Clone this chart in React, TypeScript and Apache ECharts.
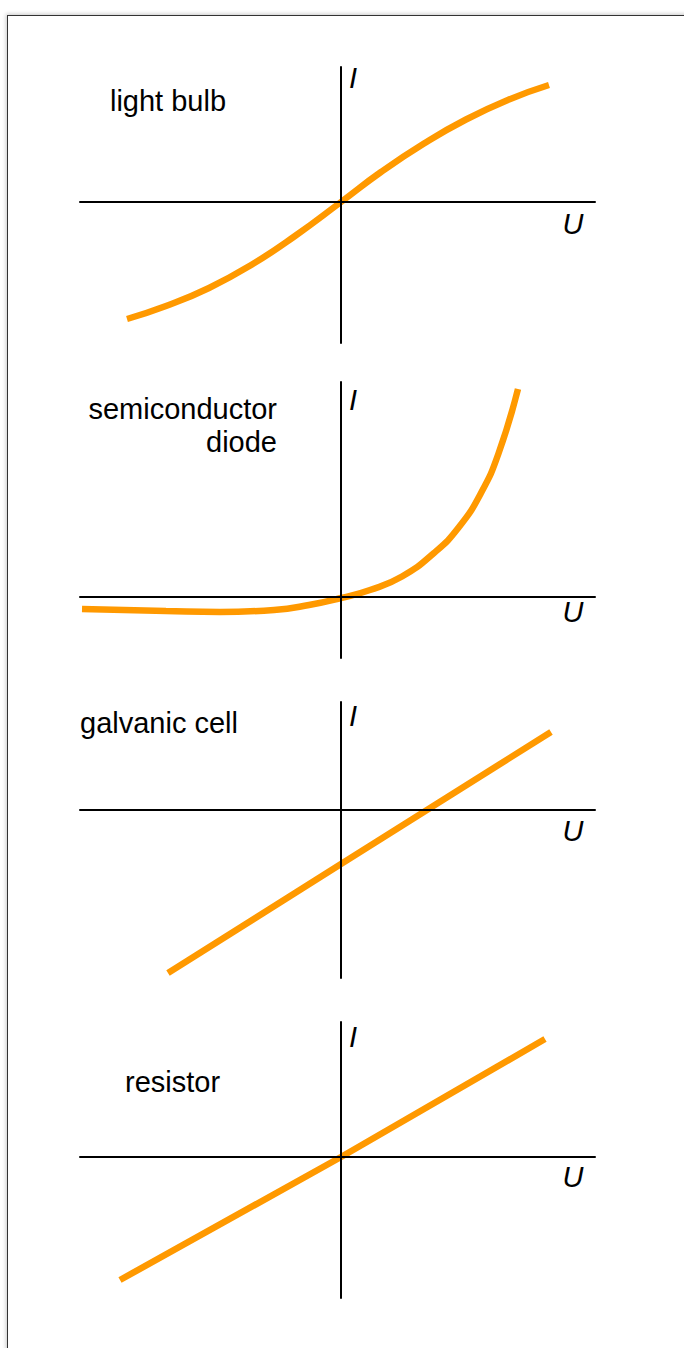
import React, { useEffect, useRef } from "react";
import * as echarts from "echarts";

// ---- data (U in units, I in units) ----
const bulbU = [-21.4, -17.5, -13.2, -8.9, -4.6, 0, 4.0, 8.3, 12.5, 16.8, 20.8];
const bulbI = [-11.7, -10.4, -8.6, -6.25, -3.4, 0, 3.0, 5.85, 8.25, 10.25, 11.7];

const diodeU = [-25.9, -17.5, -12.1, -6.7, -3.2, 0, 2.9, 6.1, 9.3, 11.8, 14.0, 15.75, 17.7];
const diodeI = [-1.2, -1.4, -1.5, -1.3, -0.8, -0.1, 0.7, 2.05, 4.4, 7.0, 10.4, 14.35, 20.8];

const cellU = [-17.3, 0, 21.0];
const cellI = [-16.3, -5.4, 7.8];

const resistorU = [-22.1, 0, 20.4];
const resistorI = [-12.3, 0, 11.8];

const titles = ["light bulb", "semiconductor\ndiode", "galvanic cell", "resistor"];
const axisNames = ["U", "I"];

// axis ranges per panel
const uRange = [-26.1, 25.4];
const iRanges = [
  [-14.1, 13.5],
  [-6.1, 21.5],
  [-16.8, 10.8],
  [-14.1, 13.5],
];

const ORANGE = "#FF9900";
const FONT = '"Liberation Sans", Arial, Helvetica, sans-serif';

function zip(u: number[], i: number[]) {
  return u.map((v, k) => [v, i[k]]);
}

export default function App() {
  const ref = useRef<HTMLDivElement>(null);

  useEffect(() => {
    if (!ref.current) return;
    const chart = echarts.init(ref.current, undefined, { renderer: "svg" });

    const gridTops = [67, 382, 702, 1022];
    const grids = gridTops.map((t) => ({ left: 80, width: 515, top: t, height: 276 }));

    const xAxes = gridTops.map((_, k) => ({
      type: "value",
      gridIndex: k,
      min: uRange[0],
      max: uRange[1],
      z: 5,
      axisLine: { show: true, onZero: true, lineStyle: { color: "#000", width: 2 } },
      axisTick: { show: false },
      axisLabel: { show: false },
      splitLine: { show: false },
    }));
    const yAxes = gridTops.map((_, k) => ({
      type: "value",
      gridIndex: k,
      min: iRanges[k][0],
      max: iRanges[k][1],
      z: 5,
      axisLine: { show: true, onZero: true, lineStyle: { color: "#000", width: 2 } },
      axisTick: { show: false },
      axisLabel: { show: false },
      splitLine: { show: false },
    }));

    const datasets = [
      { data: zip(bulbU, bulbI), smooth: 0.5 },
      { data: zip(diodeU, diodeI), smooth: 0.5 },
      { data: zip(cellU, cellI), smooth: false },
      { data: zip(resistorU, resistorI), smooth: false },
    ];

    const series = datasets.map((d, k) => ({
      type: "line",
      xAxisIndex: k,
      yAxisIndex: k,
      data: d.data,
      smooth: d.smooth,
      showSymbol: false,
      symbol: "none",
      z: 2,
      lineStyle: { color: ORANGE, width: 6.5, cap: "butt" },
    }));

    const txt = (text: string, x: number, y: number, align: string, italic = false) => ({
      type: "text",
      x,
      y,
      z: 10,
      style: {
        text,
        fill: "#000",
        fontSize: 29,
        fontFamily: FONT,
        fontStyle: italic ? "italic" : "normal",
        align,
        verticalAlign: "middle",
        lineHeight: 33,
      },
    });

    const iLabelY = [78, 400, 716, 1037];
    const uLabelY = [224, 612, 831, 1177];

    const graphic: any[] = [];
    for (let k = 0; k < 4; k++) {
      graphic.push(txt(axisNames[1], 353, iLabelY[k], "center", true));
      graphic.push(txt(axisNames[0], 573, uLabelY[k], "center", true));
    }
    graphic.push(txt(titles[0], 168, 101, "center"));
    graphic.push(txt(titles[1], 277, 425, "right"));
    graphic.push(txt(titles[2], 80, 723, "left"));
    graphic.push(txt(titles[3], 125, 1082, "left"));

    chart.setOption({
      animation: false,
      grid: grids,
      xAxis: xAxes,
      yAxis: yAxes,
      series,
      graphic,
    });

    return () => chart.dispose();
  }, []);

  return (
    <div style={{ position: "fixed", left: 0, top: 0, width: 684, height: 1348, overflow: "hidden", background: "#fff" }}>
      <div
        style={{
          position: "absolute",
          left: 7,
          top: 15,
          width: 720,
          height: 1420,
          border: "1px solid #333",
          boxShadow: "0 0 4px 1px rgba(0,0,0,0.22)",
          background: "#fff",
        }}
      />
      <div ref={ref} style={{ position: "absolute", left: 0, top: 0, width: 684, height: 1348 }} />
    </div>
  );
}
